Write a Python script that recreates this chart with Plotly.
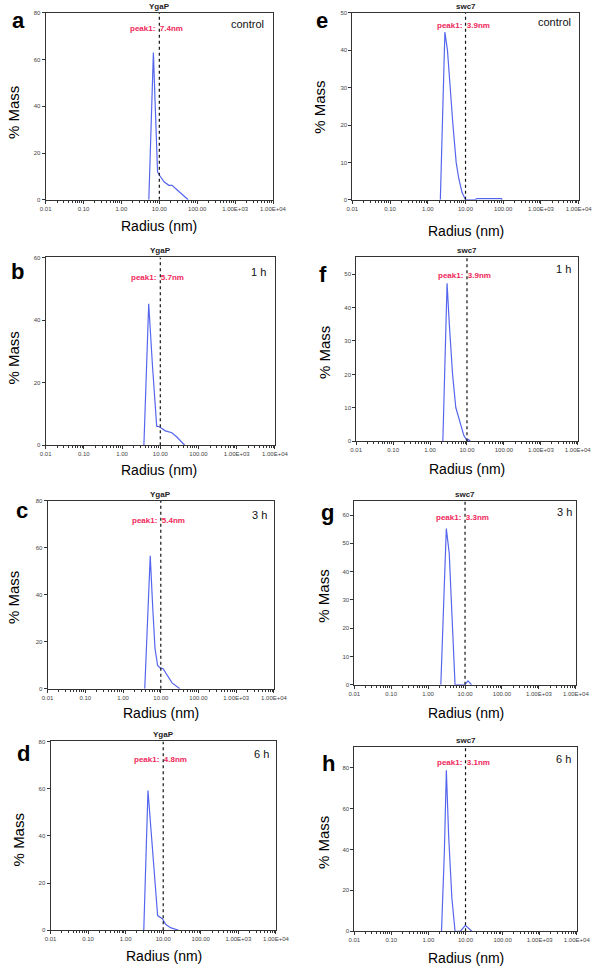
import plotly.graph_objects as go
import math

# ---------------- data ----------------
x_tickvals = [0.01, 0.1, 1, 10, 100, 1000, 10000]
x_ticktext = ["0.01", "0.10", "1.00", "10.00", "100.00", "1.00E+03", "1.00E+04"]

panel_letters = ["a", "b", "c", "d", "e", "f", "g", "h"]
proteins = ["YgaP", "YgaP", "YgaP", "YgaP", "swc7", "swc7", "swc7", "swc7"]
conditions = ["control", "1 h", "3 h", "6 h", "control", "1 h", "3 h", "6 h"]
peak_values = ["7.4nm", "5.7nm", "5.4nm", "4.8nm", "3.9nm", "3.9nm", "3.3nm", "3.1nm"]
ref_radius = 10.0
y_max = [80, 60, 80, 80, 50, 55, 65, 90]
y_dtick = [20, 20, 20, 20, 10, 10, 10, 20]

a_radius = [5.28, 6.07, 6.97, 7.68, 8.3, 8.97, 10.1, 13.3, 17.8, 21.7, 29.1, 57.8]
a_mass = [0, 35, 63, 43, 25, 12, 10.5, 7.7, 6.2, 6.2, 4.3, 0]

b_radius = [3.72, 4.34, 4.97, 6.27, 8.05, 9.4, 13.6, 20.0, 26.7, 43.6]
b_mass = [0, 23, 45.2, 25, 6.1, 5.9, 4.6, 4.0, 2.7, 0]

c_radius = [3.76, 4.57, 5.25, 6.14, 7.03, 8.24, 9.64, 11.5, 14.8, 19.9, 32.0]
c_mass = [0, 32, 56.6, 34, 17.2, 9.9, 8.9, 8.5, 5.6, 2.5, 0]

d_radius = [3.04, 3.49, 3.93, 7.1, 9.5, 11.6, 15.6, 25.7]
d_mass = [0, 33.5, 59.2, 6.2, 4.9, 2.5, 1.1, 0]

e_radius = [2.15, 2.45, 2.84, 3.32, 3.89, 4.64, 5.65, 6.62, 8.06, 10.0, 17.7, 20.0, 90.0, 94.0]
e_mass = [0, 25, 44.9, 40, 30, 20, 10, 5.7, 2, 0, 0, 0.3, 0.3, 0]

f_radius = [2.22, 2.89, 3.33, 4.07, 4.98, 6.46, 8.24, 10.0, 11.0, 12.3]
f_mass = [0, 47.3, 34.9, 20, 10.1, 5.7, 1.7, 0.2, 0.5, 0]

g_radius = [2.21, 2.76, 3.11, 3.73, 4.38, 5.36, 9.8, 12.0, 15.0]
g_mass = [0, 37, 55.2, 46.5, 27.9, 0, 0, 1.4, 0]

h_radius = [2.25, 2.69, 3.04, 3.5, 4.28, 5.22, 7.3, 9.9, 14.8]
h_mass = [0, 39, 78.8, 47, 16.3, 0, 0, 2.9, 0]

radii = [a_radius, b_radius, c_radius, d_radius, e_radius, f_radius, g_radius, h_radius]
masses = [a_mass, b_mass, c_mass, d_mass, e_mass, f_mass, g_mass, h_mass]

# ---------------- layout geometry (pixels) ----------------
W, H = 614, 972
rects = [  # left, right, top, bottom
    (41, 276, 10, 198), (41, 278, 256, 445), (43, 277, 501, 690), (46, 279, 743, 933),
    (358, 592, 10, 198), (362, 591, 256, 441), (360, 589, 501, 686), (360, 590, 749, 934),
]
letter_pos = [(13, 18), (12, 270), (17, 511), (18, 755), (327, 18), (328, 273), (332, 513), (333, 765)]
cond_shift = [(-26, -11), (-16, -15), (-14, -14), (-14, -13), (-24, -9), (-14, -12), (-11, -11), (-13, -12)]
peak_shift = [-16, -20, -20, -18, -13, -18, -17, -15]
ytitle_pos = [(8, 110), (8, 357), (8, 598), (13, 842), (324, 105), (330, 352), (328, 597), (329, 845)]
xtitle_pos = [(158, 224), (158, 470), (160, 714), (163, 959), (475, 229), (477, 469), (476, 714), (476, 961)]

FONT = "Liberation Sans, Arial, sans-serif"
LINE_BLUE = "#5566ee"
RED = "#f0285a"
AX = "#333333"

minor_vals = [m * 10 ** k for k in range(-2, 4) for m in range(2, 10)]

fig = go.Figure()
annotations = []

for i in range(8):
    L, R, T, B = rects[i]
    xa = "xaxis" if i == 0 else f"xaxis{i+1}"
    ya = "yaxis" if i == 0 else f"yaxis{i+1}"
    xr = "x" if i == 0 else f"x{i+1}"
    yr = "y" if i == 0 else f"y{i+1}"

    fig.add_trace(go.Scatter(x=radii[i], y=masses[i], mode="lines",
                             line=dict(color=LINE_BLUE, width=1.2),
                             xaxis=xr, yaxis=yr, showlegend=False, hoverinfo="skip"))
    fig.add_trace(go.Scatter(x=[ref_radius, ref_radius], y=[0, y_max[i]], mode="lines",
                             line=dict(color="#111111", width=1.2, dash="dot"),
                             xaxis=xr, yaxis=yr, showlegend=False, hoverinfo="skip"))

    fig.layout[xa] = dict(
        domain=[L / W, R / W], anchor=yr, type="log", range=[-2, 4],
        tickmode="array", tickvals=x_tickvals, ticktext=x_ticktext,
        ticks="outside", ticklen=3, tickwidth=1, tickcolor=AX,
        minor=dict(tickmode="array", tickvals=minor_vals, ticks="outside", ticklen=2, tickcolor=AX),
        showline=True, linecolor=AX, linewidth=1, mirror=True,
        showgrid=False, zeroline=False,
        tickfont=dict(family=FONT, size=6, color="#444444"),
    )
    fig.layout[ya] = dict(
        domain=[1 - B / H, 1 - T / H], anchor=xr, range=[0, y_max[i]],
        tickmode="linear", tick0=0, dtick=y_dtick[i],
        ticks="outside", ticklen=3, tickwidth=1, tickcolor=AX,
        showline=True, linecolor=AX, linewidth=1, mirror=True,
        showgrid=False, zeroline=False,
        tickfont=dict(family=FONT, size=6, color="#444444"),
    )

    xd = f"{xr} domain"
    yd = f"{yr} domain"
    # protein name above the dotted line
    annotations.append(dict(text=f"<b>{proteins[i]}</b>", xref=xr, yref=yd,
                            x=math.log10(ref_radius), y=1, xanchor="center", yanchor="bottom",
                            yshift=0, showarrow=False,
                            font=dict(family=FONT, size=8, color="#222222")))
    # peak label
    annotations.append(dict(text=f"<b>peak1:&nbsp; {peak_values[i]}</b>", xref=xr, yref=yd,
                            x=math.log10(ref_radius), y=1, xanchor="left", yanchor="middle",
                            xshift=-31, yshift=peak_shift[i], showarrow=False,
                            font=dict(family=FONT, size=8, color=RED)))
    # condition
    annotations.append(dict(text=conditions[i], xref=xd, yref=yd, x=1, y=1,
                            xanchor="center", yanchor="middle",
                            xshift=cond_shift[i][0], yshift=cond_shift[i][1], showarrow=False,
                            font=dict(family=FONT, size=11, color="#111111")))
    # panel letter
    lx, ly = letter_pos[i]
    annotations.append(dict(text=f"<b>{panel_letters[i]}</b>", xref="paper", yref="paper",
                            x=lx / W, y=1 - ly / H, xanchor="center", yanchor="middle",
                            showarrow=False, font=dict(family=FONT, size=22, color="#000000")))
    # axis titles
    tx, ty = ytitle_pos[i]
    annotations.append(dict(text="% Mass", xref="paper", yref="paper",
                            x=tx / W, y=1 - ty / H, xanchor="center", yanchor="middle",
                            textangle=-90, showarrow=False,
                            font=dict(family=FONT, size=15, color="#000000")))
    tx, ty = xtitle_pos[i]
    annotations.append(dict(text="Radius (nm)", xref="paper", yref="paper",
                            x=tx / W, y=1 - ty / H, xanchor="center", yanchor="middle",
                            showarrow=False,
                            font=dict(family=FONT, size=14, color="#000000")))

fig.update_layout(
    width=W, height=H,
    margin=dict(l=0, r=0, t=0, b=0),
    paper_bgcolor="white", plot_bgcolor="white",
    annotations=annotations,
    showlegend=False,
    font=dict(family=FONT),
)

fig.write_html("out.html",
               config={"displayModeBar": False, "staticPlot": True},
               post_script="document.body.style.margin='0';document.body.style.padding='0';document.body.style.overflow='hidden';")
